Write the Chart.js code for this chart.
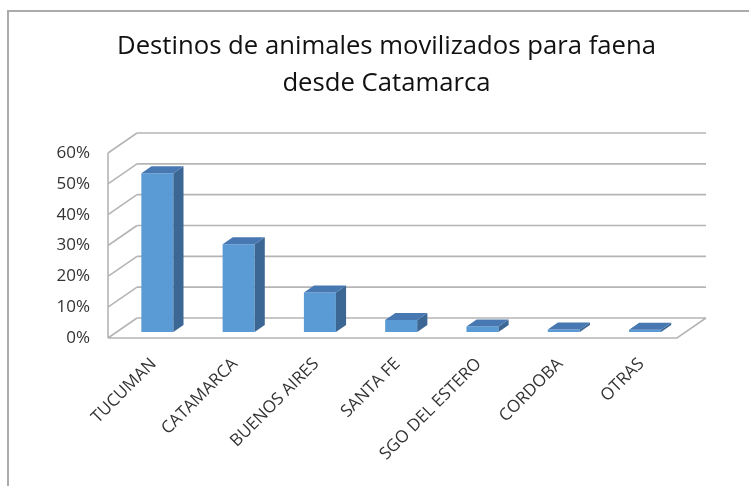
<!DOCTYPE html>
<html>
<head>
<meta charset="utf-8">
<script src="https://cdn.jsdelivr.net/npm/chart.js@4.4.1/dist/chart.umd.min.js"></script>
<style>
  html, body { margin: 0; padding: 0; background: #fff; }
  #wrap { position: relative; width: 749px; height: 486px; overflow: hidden; }
  #frame { position: absolute; left: 7px; top: 10px; right: -10px; bottom: -10px;
           border: 2px solid #ababab; pointer-events: none; }
</style>
</head>
<body>
<div id="wrap">
  <canvas id="chart" width="749" height="486"></canvas>
  <div id="frame"></div>
</div>
<script>
// Datos
const destinos = ['TUCUMAN', 'CATAMARCA', 'BUENOS AIRES', 'SANTA FE', 'SGO DEL ESTERO', 'CORDOBA', 'OTRAS'];
const porcentajes = [51.5, 28.5, 12.8, 3.9, 1.8, 0.8, 0.7];
const marcasY = [0, 10, 20, 30, 40, 50, 60];
const titulo = ['Destinos de animales movilizados para faena', 'desde Catamarca'];

// Profundidad del efecto 3D (desplazamiento de la pared del fondo)
const fondoDx = 29, fondoDy = -20;
const barraDesde = 0.3, barraHasta = 0.65;

const efecto3d = {
    id: 'efecto3d',
    beforeDatasetsDraw(chart) {
        const ctx = chart.ctx;
        const a = chart.chartArea;
        const y = chart.scales.y;
        ctx.save();
        ctx.strokeStyle = '#b5b5b5';
        ctx.lineWidth = 1.6;
        ctx.beginPath();
        marcasY.forEach(v => {
            const py = y.getPixelForValue(v);
            // pared del fondo
            ctx.moveTo(a.left + fondoDx, py + fondoDy);
            ctx.lineTo(a.right + fondoDx, py + fondoDy);
            // pared lateral
            ctx.moveTo(a.left, py);
            ctx.lineTo(a.left + fondoDx, py + fondoDy);
        });
        const y0 = y.getPixelForValue(0);
        const yMax = y.getPixelForValue(marcasY[marcasY.length - 1]);
        ctx.moveTo(a.left, yMax);
        ctx.lineTo(a.left, y0);
        // piso
        ctx.moveTo(a.left, y0);
        ctx.lineTo(a.right, y0);
        ctx.lineTo(a.right + fondoDx, y0 + fondoDy);
        ctx.stroke();
        ctx.restore();

        // las barras se dibujan algo hacia el fondo
        ctx.save();
        ctx.translate(fondoDx * barraDesde, fondoDy * barraDesde);
    },
    afterDatasetsDraw(chart) {
        const ctx = chart.ctx;
        const dx = fondoDx * (barraHasta - barraDesde);
        const dy = fondoDy * (barraHasta - barraDesde);
        chart.getDatasetMeta(0).data.forEach(bar => {
            const p = bar.getProps(['x', 'y', 'base', 'width'], true);
            const xl = p.x - p.width / 2, xr = p.x + p.width / 2;
            // cara lateral
            ctx.fillStyle = '#3c6794';
            ctx.beginPath();
            ctx.moveTo(xr, p.y);
            ctx.lineTo(xr + dx, p.y + dy);
            ctx.lineTo(xr + dx, p.base + dy);
            ctx.lineTo(xr, p.base);
            ctx.closePath();
            ctx.fill();
            // cara superior
            ctx.fillStyle = '#4778b2';
            ctx.beginPath();
            ctx.moveTo(xl, p.y);
            ctx.lineTo(xl + dx, p.y + dy);
            ctx.lineTo(xr + dx, p.y + dy);
            ctx.lineTo(xr, p.y);
            ctx.closePath();
            ctx.fill();
        });
        ctx.restore();
    }
};

function crearGrafico() {
    const ctx = document.getElementById('chart');
    new Chart(ctx, {
        type: 'bar',
        data: {
            labels: destinos,
            datasets: [{
                data: porcentajes,
                backgroundColor: '#5b9bd5',
                borderWidth: 0,
                barPercentage: 0.394,
                categoryPercentage: 1
            }]
        },
        options: {
            responsive: false,
            animation: false,
            layout: { padding: { left: 24, right: 0, top: 0, bottom: 0 } },
            plugins: {
                legend: { display: false },
                tooltip: { enabled: false },
                title: {
                    display: true,
                    text: titulo,
                    color: '#111111',
                    font: { family: 'Open Sans', size: 25.7, weight: 'normal', lineHeight: '37px' },
                    padding: { top: 28.5, bottom: 50.5 }
                }
            },
            scales: {
                x: {
                    grid: { display: false },
                    border: { display: false },
                    ticks: {
                        autoSkip: false,
                        minRotation: 45,
                        maxRotation: 45,
                        padding: 8,
                        labelOffset: 5,
                        color: '#333333',
                        font: { family: 'Open Sans', size: 17 }
                    },
                    afterFit(s) { s.height = 148; }
                },
                y: {
                    min: 0,
                    max: 60,
                    grid: { display: false, drawTicks: false },
                    border: { display: false },
                    ticks: {
                        stepSize: 10,
                        padding: 18,
                        color: '#333333',
                        font: { family: 'Open Sans', size: 17 },
                        callback: v => v + '%'
                    },
                    afterFit(s) { s.width = 84; }
                },
                yDer: {
                    position: 'right',
                    grid: { display: false },
                    border: { display: false },
                    ticks: { display: false },
                    afterFit(s) { s.width = 72; }
                }
            }
        },
        plugins: [efecto3d]
    });
}

window.onload = function() {
    crearGrafico();
};
</script>
</body>
</html>
